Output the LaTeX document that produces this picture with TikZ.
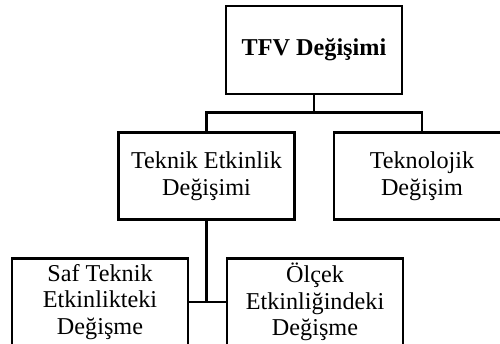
\documentclass[tikz,border=0pt]{standalone}
\usepackage{fontspec}
\setmainfont{Liberation Serif}
\begin{document}
\begin{tikzpicture}[x=1pt,y=-1pt,
  box/.style={draw, line width=2.6pt, rectangle, minimum width=176pt, minimum height=87pt,
    inner sep=0pt, align=center, font=\fontsize{24.2}{26.5}\selectfont},
  conn/.style={line width=2.8pt}]
\useasboundingbox (0,0) rectangle (500,344);
\fill[white] (0,0) rectangle (500,344);
\clip (0,0) rectangle (500,344);
\node[box, minimum height=88pt] (top) at (314,50) {\textbf{TFV Değişimi}};
\node[box] (tek) at (206.5,176) {Teknik Etkinlik\\Değişimi};
\node[box] (tkn) at (422,176) {Teknolojik\\Değişim};
\node[box] (saf) at (100,302) {Saf Teknik\\Etkinlikteki\\Değişme};
\node[box] (olc) at (315,302) {Ölçek\\Etkinliğindeki\\Değişme};
\path (top.south) ++(0,17) coordinate (j1);
\draw[conn] (top.south) -- (j1);
\draw[conn] (tek.north) |- (j1) -| (tkn.north);
\draw[conn] (tek.south) -- (tek.south |- saf.east);
\draw[conn] (saf.east) -- (olc.west);
\end{tikzpicture}
\end{document}
